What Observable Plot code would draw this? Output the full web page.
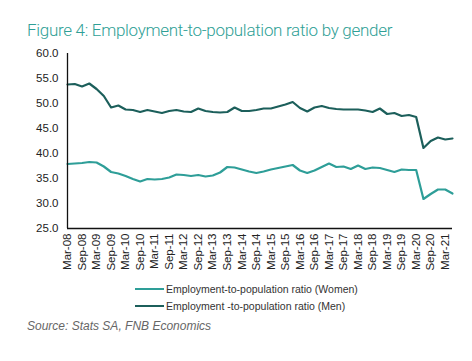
<!DOCTYPE html>
<html>
<head>
<meta charset="utf-8">
<script src="https://cdn.jsdelivr.net/npm/d3@7"></script>
<script src="https://cdn.jsdelivr.net/npm/@observablehq/plot@0.6"></script>
<style>
  html, body { margin: 0; padding: 0; background: #fff; }
  #wrap { position: relative; width: 472px; height: 361px; overflow: hidden; font-family: "Liberation Sans", Arial, sans-serif; }
  #title { position: absolute; left: 27px; top: 20px; font-family: Roboto, sans-serif; font-weight: 300; font-size: 17px; color: #2f9f96; white-space: nowrap; letter-spacing: -0.3px; }
  #chart { position: absolute; left: 0; top: 45px; }
  #legend { position: absolute; left: 135px; top: 281px; font-size: 10.5px; color: #333; }
  .row { display: flex; align-items: center; height: 16.5px; }
  .sw { width: 29px; height: 2px; margin-right: 2px; }
  #source { position: absolute; left: 27px; top: 319px; font-size: 12px; font-style: italic; color: #666; }
</style>
</head>
<body>
<div id="wrap">
  <div id="title">Figure 4: Employment-to-population ratio by gender</div>
  <div id="chart"></div>
  <div id="legend"></div>
  <div id="source">Source: Stats SA, FNB Economics</div>
</div>
<script>
const quarters = [
  "Mar-08","Jun-08","Sep-08","Dec-08","Mar-09","Jun-09","Sep-09","Dec-09",
  "Mar-10","Jun-10","Sep-10","Dec-10","Mar-11","Jun-11","Sep-11","Dec-11",
  "Mar-12","Jun-12","Sep-12","Dec-12","Mar-13","Jun-13","Sep-13","Dec-13",
  "Mar-14","Jun-14","Sep-14","Dec-14","Mar-15","Jun-15","Sep-15","Dec-15",
  "Mar-16","Jun-16","Sep-16","Dec-16","Mar-17","Jun-17","Sep-17","Dec-17",
  "Mar-18","Jun-18","Sep-18","Dec-18","Mar-19","Jun-19","Sep-19","Dec-19",
  "Mar-20","Jun-20","Sep-20","Dec-20","Mar-21","Jun-21"
];
const tickLabels = [
  "Mar-08","Sep-08","Mar-09","Sep-09","Mar-10","Sep-10","Mar-11","Sep-11",
  "Mar-12","Sep-12","Mar-13","Sep-13","Mar-14","Sep-14","Mar-15","Sep-15",
  "Mar-16","Sep-16","Mar-17","Sep-17","Mar-18","Sep-18","Mar-19","Sep-19",
  "Mar-20","Sep-20","Mar-21"
];
const women = [
  37.9,38.0,38.1,38.3,38.2,37.4,36.3,36.0,
  35.5,34.9,34.4,34.9,34.8,34.9,35.2,35.8,
  35.7,35.5,35.7,35.4,35.6,36.2,37.3,37.2,
  36.8,36.4,36.1,36.4,36.8,37.1,37.4,37.7,
  36.6,36.1,36.6,37.3,38.0,37.3,37.4,36.9,
  37.6,36.9,37.2,37.1,36.7,36.3,36.8,36.7,
  36.7,30.9,31.9,32.8,32.8,32.0
];
const men = [
  53.8,53.9,53.4,54.0,52.9,51.5,49.2,49.6,
  48.8,48.7,48.3,48.7,48.4,48.1,48.5,48.7,
  48.4,48.3,49.0,48.5,48.3,48.2,48.3,49.2,
  48.5,48.5,48.7,49.0,49.0,49.4,49.8,50.3,
  49.1,48.4,49.2,49.5,49.1,48.9,48.8,48.8,
  48.8,48.6,48.3,49.0,47.9,48.1,47.5,47.7,
  47.3,41.1,42.5,43.2,42.8,43.0
];
const seriesNames = ["Employment-to-population ratio (Women)", "Employment -to-population ratio (Men)"];
const seriesColors = ["#2e9e98", "#1c5f5b"];
const yTicks = [25, 30, 35, 40, 45, 50, 55, 60];

const rows = [];
quarters.forEach((q, i) => {
  rows.push({i, q, v: women[i], s: seriesNames[0]});
  rows.push({i, q, v: men[i], s: seriesNames[1]});
});
const tickIdx = tickLabels.map(t => quarters.indexOf(t));

const plot = Plot.plot({
  width: 472,
  height: 230,
  marginLeft: 67,
  marginRight: 20,
  marginTop: 8,
  marginBottom: 47,
  style: {fontFamily: "'Liberation Sans', Arial, sans-serif", fontSize: "11px", color: "#222", background: "#fff"},
  x: {type: "linear", domain: [0, quarters.length - 1]},
  y: {domain: [25, 60]},
  color: {domain: seriesNames, range: seriesColors},
  marks: [
    Plot.axisY({ticks: yTicks, tickFormat: d => d.toFixed(1), tickSize: 0, tickPadding: 9, label: null, fontSize: 11.5}),
    Plot.axisX({ticks: tickIdx, tickFormat: i => quarters[i], tickSize: 0, tickPadding: 5, tickRotate: -90, label: null, fontSize: 11.5}),
    Plot.lineY(rows, {x: "i", y: "v", stroke: "s", strokeWidth: 2.2, curve: "linear"}),
    Plot.ruleX([0], {stroke: "#111", strokeWidth: 1.3}),
    Plot.ruleY([25], {stroke: "#111", strokeWidth: 1.3})
  ]
});
document.getElementById("chart").appendChild(plot);

const legend = document.getElementById("legend");
seriesNames.forEach((n, k) => {
  const r = document.createElement("div");
  r.className = "row";
  const sw = document.createElement("span");
  sw.className = "sw";
  sw.style.background = seriesColors[k];
  const t = document.createElement("span");
  t.textContent = n;
  r.appendChild(sw); r.appendChild(t);
  legend.appendChild(r);
});
</script>
</body>
</html>
